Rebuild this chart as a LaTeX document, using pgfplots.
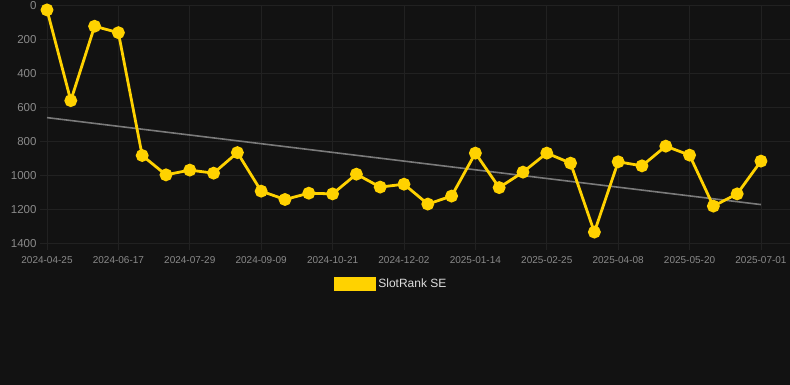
\documentclass[border=0pt]{standalone}
\usepackage{pgfplots}
\pgfplotsset{compat=1.18}
\usepackage{fontspec}
\setmainfont{Liberation Sans}
\usetikzlibrary{backgrounds}
\definecolor{bg}{HTML}{121212}
\definecolor{gridc}{HTML}{212121}
\definecolor{tickc}{HTML}{8A8A8A}
\definecolor{goldc}{HTML}{FFD200}
\definecolor{trendc}{HTML}{7A7A7A}
\definecolor{legc}{HTML}{DDDDDD}
\begin{document}
\begin{tikzpicture}
\begin{axis}[
  name=ax,
  scale only axis,
  width=743pt, height=237.8pt,
  xmin=0, xmax=31.22,
  ymin=0, ymax=1400,
  y dir=reverse,
  clip=false,
  axis line style={draw=none},
  grid=major,
  major grid style={color=gridc, line width=0.8pt},
  tick align=outside,
  major tick length=7pt,
  tick style={color=gridc, line width=0.8pt},
  xtick={0,3,...,30},
  xticklabels={2024-04-25,2024-06-17,2024-07-29,2024-09-09,2024-10-21,2024-12-02,2025-01-14,2025-02-25,2025-04-08,2025-05-20,2025-07-01},
  ytick={0,200,...,1400},
  xtick pos=bottom, ytick pos=left,
  /pgf/number format/assume math mode=true,
  /pgf/number format/1000 sep={},
  yticklabel style={font=\fontsize{11.5}{12}\selectfont, text=tickc, anchor=east, xshift=0pt},
  xticklabel style={font=\fontsize{10}{11}\selectfont, text=tickc, anchor=north, yshift=-3pt},
  legend style={at={(0.463,-0.171)}, anchor=center, draw=none, fill=none,
    text=legc, font=\fontsize{12}{13}\selectfont},
  legend image code/.code={\fill[goldc] (0pt,-5.5pt) rectangle (40pt,5.5pt);},
]
\addplot[trendc, line width=1.6pt, forget plot] coordinates {(0,660) (30,1172)};
\addplot[goldc, line width=2.8pt, mark=*, mark size=5pt, mark options={solid, fill=goldc, draw=none}] coordinates {
(0,26) (1,560) (2,122) (3,160) (4,883) (5,997) (6,969) (7,987) (8,866) (9,1093)
(10,1142) (11,1105) (12,1109) (13,993) (14,1069) (15,1052) (16,1169) (17,1122) (18,869) (19,1072)
(20,981) (21,869) (22,928) (23,1334) (24,920) (25,944) (26,828) (27,881) (28,1181) (29,1109)
(30,916)};
\addlegendentry{SlotRank SE}
\end{axis}
\begin{scope}[on background layer]
\fill[bg] ([xshift=-48pt,yshift=-142pt]ax.south west) rectangle ([xshift=744pt,yshift=245pt]ax.south west);
\end{scope}
\pgfresetboundingbox
\useasboundingbox ([xshift=-47pt,yshift=-140.7pt]ax.south west) rectangle ([xshift=743pt,yshift=243.3pt]ax.south west);
\end{tikzpicture}
\end{document}
